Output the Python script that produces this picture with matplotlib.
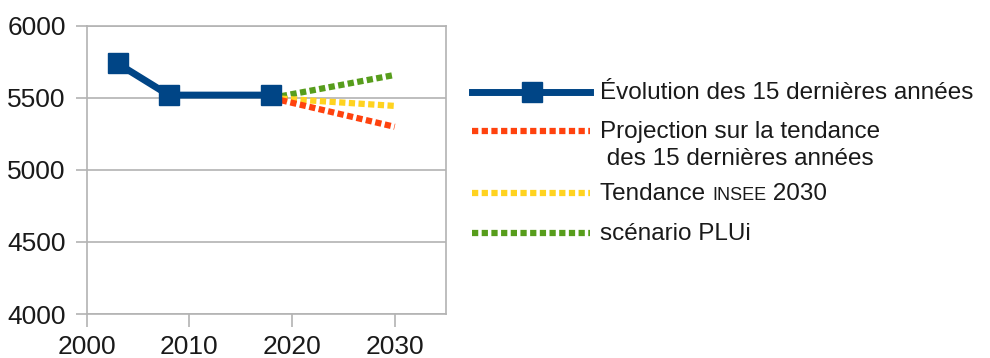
import matplotlib.pyplot as plt
from matplotlib.lines import Line2D

plt.rcParams['font.family'] = ['Liberation Sans', 'DejaVu Sans']

# données
annees_hist = [2003, 2008, 2018]
pop_hist = [5740, 5520, 5520]

annees_proj = [2018, 2030]
proj_tendance = [5500, 5300]
proj_insee = [5500, 5445]
proj_plui = [5500, 5660]

bleu = '#004586'
rouge = '#ff420e'
jaune = '#ffd320'
vert = '#579d1c'
gris = '#b3b3b3'
pointille = (0, (1.0, 0.55))

fig = plt.figure(figsize=(9.9, 3.58), dpi=100)
ax = fig.add_axes([0.0876, 0.1229, 0.3629, 0.8045])

ax.plot(annees_proj, proj_plui, color=vert, lw=4.5, linestyle=pointille, zorder=3)
ax.plot(annees_proj, proj_insee, color=jaune, lw=4.5, linestyle=pointille, zorder=3)
ax.plot(annees_proj, proj_tendance, color=rouge, lw=4.5, linestyle=pointille, zorder=3)
ax.plot(annees_hist, pop_hist, color=bleu, lw=5, marker='s', markersize=15,
        zorder=4, clip_on=False)

ax.set_xlim(2000, 2035)
ax.set_ylim(4000, 6000)
ax.set_xticks([2000, 2010, 2020, 2030])
ax.set_yticks([4000, 4500, 5000, 5500, 6000])
ax.grid(axis='y', color=gris, lw=1.2)
ax.set_axisbelow(True)
for s in ax.spines.values():
    s.set_color(gris)
    s.set_linewidth(1.2)
ax.tick_params(axis='x', length=9, width=1.2, color=gris, pad=6, labelsize=19, labelcolor='#1a1a1a')
ax.tick_params(axis='y', length=8, width=1.2, color=gris, pad=7, labelsize=19, labelcolor='#1a1a1a')

# légende dessinée à la main (taille de police mixte pour INSEE)
W, H = 990, 358
def fx(px):
    return px / W
def fy(py):
    return 1 - py / H

entrees = [(92, bleu, '-', 's'), (131, rouge, pointille, None),
           (193, jaune, pointille, None), (233, vert, pointille, None)]
for y, c, ls, m in entrees:
    fig.add_artist(Line2D([fx(472), fx(590)], [fy(y), fy(y)], color=c,
                          lw=5 if m else 4.5, linestyle=ls, transform=fig.transFigure))
    if m:
        fig.add_artist(Line2D([fx(532)], [fy(y)], color=c, marker=m, markersize=15,
                              transform=fig.transFigure))

tx = fx(600)
taille = 17.5
kw = dict(fontsize=taille, color='#1a1a1a', va='baseline', ha='left')
def ligne(y, texte):
    return fig.text(tx, fy(y + 7), texte, **kw)
ligne(92, 'Évolution des 15 dernières années')
ligne(131, 'Projection sur la tendance')
ligne(158, ' des 15 dernières années')
ligne(233, 'scénario PLUi')

# ligne INSEE : trois morceaux sur la même ligne de base
r = fig.canvas.get_renderer()
x = 600
for morceau, fs in [('Tendance ', taille), ('INSEE', 13), (' 2030', taille)]:
    t = fig.text(fx(x), fy(200), morceau, fontsize=fs, color='#1a1a1a', va='baseline', ha='left')
    x += t.get_window_extent(renderer=r).width

fig.savefig('out.png', dpi=100)
